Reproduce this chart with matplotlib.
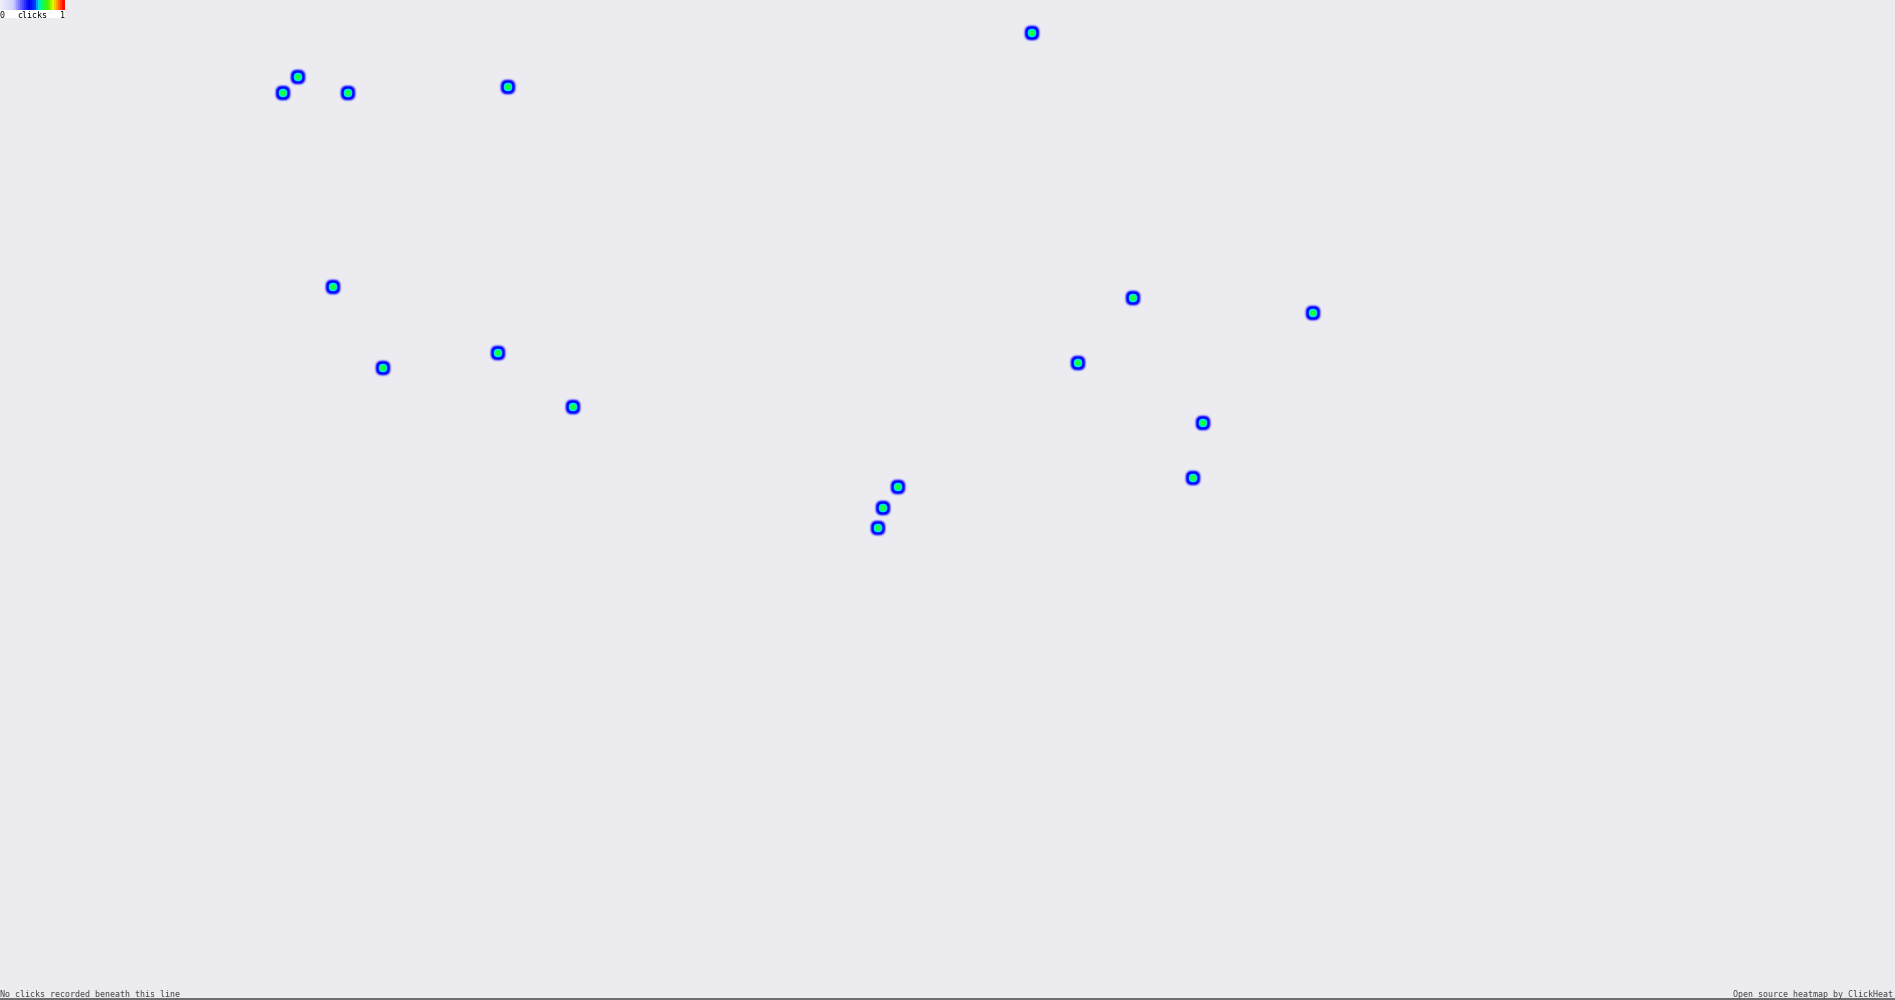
import numpy as np
import matplotlib
matplotlib.use("Agg")
import matplotlib.pyplot as plt
from matplotlib.colors import LinearSegmentedColormap

# ---- data: click positions (page pixels) and click counts ----
click_x = [1032, 298, 283, 348, 508, 333, 383, 498, 573, 1133, 1313, 1078, 1203, 1193, 898, 883, 878]
click_y = [33, 77, 93, 93, 87, 287, 368, 353, 407, 298, 313, 363, 423, 478, 487, 508, 528]
click_n = [1] * len(click_x)

legend_labels = ["0", "clicks", "1"]
bottom_left_text = "No clicks recorded beneath this line"
bottom_right_text = "Open source heatmap by ClickHeat"

W, H = 1895, 1000
BG = "#EBEBF0"

fig = plt.figure(figsize=(W / 100, H / 100), dpi=100)
fig.patch.set_facecolor(BG)
ax = fig.add_axes([0, 0, 1, 1])
ax.set_facecolor(BG)
ax.set_xlim(0, W)
ax.set_ylim(H, 0)
ax.axis("off")

# ---- heat layer ----
R = 9.5
heat = np.zeros((H, W))
for x, y, n in zip(click_x, click_y, click_n):
    x0, x1 = int(x - 13), int(x + 14)
    y0, y1 = int(y - 13), int(y + 14)
    gx = np.arange(x0, x1) + 0.5 - x
    gy = np.arange(y0, y1) + 0.5 - y
    DX, DY = np.meshgrid(gx, gy)
    r = (np.abs(DX) ** 2.6 + np.abs(DY) ** 2.6) ** (1 / 2.6)
    v = np.clip(1 - r / R, 0, 1) * n
    heat[y0:y1, x0:x1] = np.maximum(heat[y0:y1, x0:x1], v)

dot_colors = [
    (0.00, (0.80, 0.80, 1.00, 0.0)),
    (0.12, (0.70, 0.70, 1.00, 0.45)),
    (0.26, (0.30, 0.30, 1.00, 0.95)),
    (0.36, (0.05, 0.05, 1.00, 1.0)),
    (0.50, (0.00, 0.00, 1.00, 1.0)),
    (0.56, (0.00, 0.55, 1.00, 1.0)),
    (0.62, (0.00, 0.90, 0.95, 1.0)),
    (0.71, (0.00, 1.00, 0.55, 1.0)),
    (0.82, (0.10, 1.00, 0.20, 1.0)),
    (1.00, (0.25, 1.00, 0.20, 1.0)),
]
dot_cmap = LinearSegmentedColormap.from_list("dots", dot_colors)
dot_cmap.set_under((0, 0, 0, 0))
ax.imshow(np.where(heat > 0, heat, -1), cmap=dot_cmap, vmin=0, vmax=1,
          extent=(0, W, H, 0), interpolation="nearest", zorder=2)

# ---- legend ----
leg_colors = [
    (0.00, (0.93, 0.93, 0.97)),
    (0.20, (0.82, 0.82, 0.98)),
    (0.33, (0.35, 0.35, 1.00)),
    (0.45, (0.00, 0.00, 0.95)),
    (0.55, (0.00, 0.25, 1.00)),
    (0.60, (0.00, 0.85, 1.00)),
    (0.66, (0.00, 1.00, 0.45)),
    (0.76, (0.30, 0.95, 0.00)),
    (0.84, (0.85, 1.00, 0.00)),
    (0.90, (1.00, 0.65, 0.00)),
    (1.00, (1.00, 0.05, 0.00)),
]
leg_cmap = LinearSegmentedColormap.from_list("legend", leg_colors, N=32)
grad = np.linspace(0, 1, 65)[None, :]
ax.add_patch(plt.Rectangle((0, 10), 65, 8, facecolor="white", edgecolor="none", zorder=3))
ax.imshow(grad, cmap=leg_cmap, extent=(0, 65, 10, 0), aspect="auto",
          interpolation="nearest", zorder=4)
mono = "DejaVu Sans Mono"
ax.text(0, 17.5, legend_labels[0], fontsize=6, family=mono, color="black", va="baseline", ha="left", zorder=5)
ax.text(32, 17.5, legend_labels[1], fontsize=6, family=mono, color="black", va="baseline", ha="center", zorder=5)
ax.text(65, 17.5, legend_labels[2], fontsize=6, family=mono, color="black", va="baseline", ha="right", zorder=5)

# ---- bottom line + texts ----
ax.add_patch(plt.Rectangle((0, 997.5), W, 2.5, facecolor="#6E6E6E", edgecolor="none", zorder=3))
ax.text(0, 997, bottom_left_text, fontsize=6, family=mono, color="#444444", va="baseline", ha="left", zorder=5)
ax.text(1893, 997, bottom_right_text, fontsize=6, family=mono, color="#444444", va="baseline", ha="right", zorder=5)

fig.savefig("out.png", dpi=100, facecolor=BG)
